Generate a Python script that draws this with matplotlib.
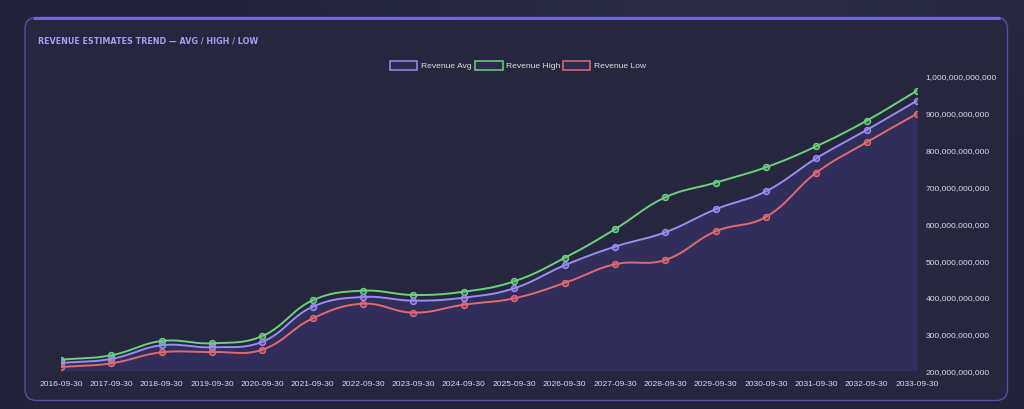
import numpy as np
import matplotlib
matplotlib.use("Agg")
import matplotlib.pyplot as plt
from matplotlib.patches import FancyBboxPatch, Rectangle
from matplotlib.ticker import FuncFormatter, MultipleLocator

# ---------------- data ----------------
dates = ["2016-09-30", "2017-09-30", "2018-09-30", "2019-09-30", "2020-09-30",
         "2021-09-30", "2022-09-30", "2023-09-30", "2024-09-30", "2025-09-30",
         "2026-09-30", "2027-09-30", "2028-09-30", "2029-09-30", "2030-09-30",
         "2031-09-30", "2032-09-30", "2033-09-30"]
revenue_avg = [221e9, 232e9, 269e9, 263.5e9, 278.6e9, 373.6e9, 400e9, 390e9, 398e9,
               423.5e9, 485.8e9, 536.3e9, 575.3e9, 637.7e9, 686.5e9, 776e9, 852.8e9, 932.2e9]
revenue_high = [229.8e9, 241.8e9, 280.5e9, 274.3e9, 294.1e9, 390.9e9, 417e9, 405.3e9, 414.2e9,
                442.4e9, 505.6e9, 583.5e9, 670.2e9, 709.9e9, 751.6e9, 808.6e9, 878e9, 959.4e9]
revenue_low = [210e9, 220e9, 249.9e9, 250.7e9, 257e9, 342.1e9, 381.7e9, 357.3e9, 379e9,
               396.3e9, 437.8e9, 488.6e9, 500.2e9, 578e9, 616.8e9, 737e9, 819.4e9, 897e9]
series_names = ["Revenue Avg", "Revenue High", "Revenue Low"]
title_text = "REVENUE ESTIMATES TREND \u2014 AVG / HIGH / LOW"

# ---------------- style ----------------
W, H = 1024, 410
BG = "#24253b"
CARD = "#26263f"
COL_AVG = "#9a8cf2"
COL_HIGH = "#6ad37a"
COL_LOW = "#e06a6e"
FILL = "#322f5e"
TXT = "#dcdce6"

plt.rcParams["font.family"] = ["Liberation Sans", "DejaVu Sans"]

fig = plt.figure(figsize=(W / 100, H / 100), dpi=100, facecolor=BG)

# background gradient
bgax = fig.add_axes([0, 0, 1, 1], zorder=-10)
bgax.set_axis_off()
gx = np.linspace(0, 1, 256)
gy = np.linspace(0, 1, 128)
GX, GY = np.meshgrid(gx, gy)
base = np.array([0x22, 0x23, 0x38]) / 255
light = np.array([0x2c, 0x2e, 0x44]) / 255
wgt = np.clip(1 - np.hypot((GX - 0.72) / 0.6, (GY - 0.0) / 0.5), 0, 1) ** 1.5
img = base[None, None, :] * (1 - wgt[..., None]) + light[None, None, :] * wgt[..., None]
bgax.imshow(img, extent=[0, 1, 0, 1], aspect="auto", origin="upper")
bgax.set_xlim(0, 1)
bgax.set_ylim(0, 1)


def fx(px):
    return px / W


def fy(py):
    return 1 - py / H


# card
card_l, card_t, card_r, card_b = 25, 18.5, 1007.5, 401.5
card = FancyBboxPatch((fx(card_l), fy(card_b)), fx(card_r - card_l), (card_b - card_t) / H,
                      boxstyle="round,pad=0,rounding_size=0.011",
                      transform=fig.transFigure, facecolor=CARD, edgecolor="#554ea8",
                      linewidth=1.0, zorder=-5, mutation_aspect=W / H)
fig.patches.append(card)
# top accent border
fig.lines.append(matplotlib.lines.Line2D([fx(card_l + 8), fx(card_r - 8)], [fy(card_t), fy(card_t)],
                                         transform=fig.transFigure, color="#6f66dc", linewidth=2.2,
                                         solid_capstyle="butt", zorder=-4))

# title
fig.text(fx(38), fy(40.5), title_text, color="#a99cf0", fontsize=5.8, fontweight="bold",
         family=["DejaVu Sans"], va="center", ha="left")

# ---------------- plot ----------------
px_left, px_right, px_top, px_bottom = 61, 917, 76.7, 371.7
ax = fig.add_axes([fx(px_left), fy(px_bottom), fx(px_right - px_left), (px_bottom - px_top) / H])
ax.set_facecolor("none")
n = len(dates)
x = np.arange(n)
ax.set_xlim(0, n - 1)
ax.set_ylim(200e9, 1000e9)
for s in ax.spines.values():
    s.set_visible(False)


def smooth(xs, ys, tension=0.4, samples=24):
    pts = ax.transData.transform(np.column_stack([xs, ys]))
    m = len(pts)
    cps = []
    for i in range(m):
        prev = pts[max(i - 1, 0)]
        cur = pts[i]
        nxt = pts[min(i + 1, m - 1)]
        d01 = np.hypot(*(cur - prev))
        d12 = np.hypot(*(nxt - cur))
        tot = d01 + d12
        s01 = d01 / tot if tot else 0
        s12 = d12 / tot if tot else 0
        fa = tension * s01
        fb = tension * s12
        cp_prev = cur - fa * (nxt - prev)
        cp_next = cur + fb * (nxt - prev)
        cps.append((cp_prev, cp_next))
    out = []
    t = np.linspace(0, 1, samples)[:, None]
    for i in range(m - 1):
        p0 = pts[i]
        p1 = cps[i][1]
        p2 = cps[i + 1][0]
        p3 = pts[i + 1]
        seg = ((1 - t) ** 3) * p0 + 3 * ((1 - t) ** 2) * t * p1 + 3 * (1 - t) * t ** 2 * p2 + t ** 3 * p3
        if i > 0:
            seg = seg[1:]
        out.append(seg)
    out = np.vstack(out)
    data = ax.transData.inverted().transform(out)
    return data[:, 0], data[:, 1]


sx, sy = smooth(x, revenue_avg)
ax.fill_between(sx, sy, 200e9, color=FILL, alpha=0.95, linewidth=0, zorder=1)

for vals, col in [(revenue_high, COL_HIGH), (revenue_avg, COL_AVG), (revenue_low, COL_LOW)]:
    lx, ly = smooth(x, vals)
    ax.plot(lx, ly, color=col, linewidth=1.4, zorder=3, solid_capstyle="round")
    ax.plot(x, vals, linestyle="none", marker="o", markersize=4.2, markeredgewidth=1.1,
            markeredgecolor=col, markerfacecolor=matplotlib.colors.to_rgba(col, 0.3), zorder=4)

ax.set_xticks(x)
ax.set_xticklabels(dates)
ax.yaxis.set_major_locator(MultipleLocator(100e9))
ax.yaxis.set_major_formatter(FuncFormatter(lambda v, p: f"{v:,.0f}"))
ax.yaxis.tick_right()
ax.tick_params(axis="both", length=0, colors=TXT, labelsize=6.1)
ax.tick_params(axis="x", pad=7)
ax.tick_params(axis="y", pad=6.2)
for lab in ax.get_yticklabels():
    lab.set_ha("left")

# ---------------- legend ----------------
leg_items = [(series_names[0], COL_AVG, 389.5, 420.7),
             (series_names[1], COL_HIGH, 475, 506),
             (series_names[2], COL_LOW, 562.5, 593.7)]
for name, col, bx, tx in leg_items:
    r = Rectangle((fx(bx), fy(70.5)), fx(27.5), 8.2 / H, transform=fig.transFigure,
                  facecolor="#2c2b4e", edgecolor=col, linewidth=1.1, zorder=5)
    fig.patches.append(r)
    fig.text(fx(tx), fy(66.5), name, color=TXT, fontsize=6.1, va="center", ha="left")

fig.savefig("out.png", dpi=100, facecolor=BG)
